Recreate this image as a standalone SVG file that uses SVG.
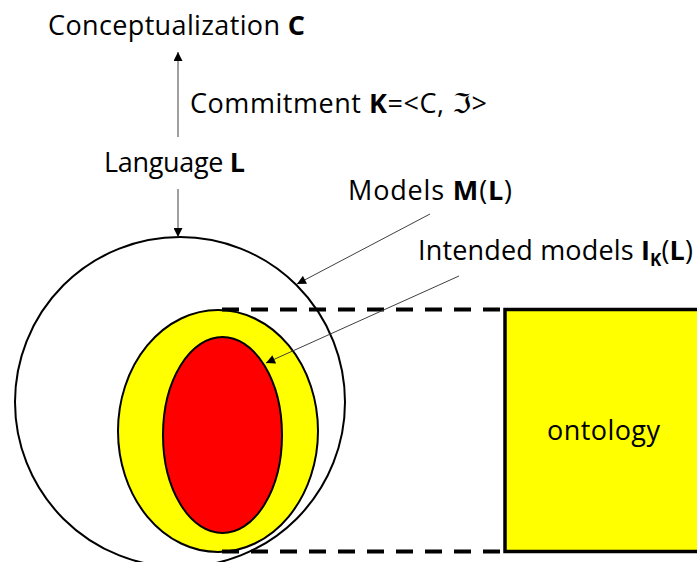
<svg xmlns="http://www.w3.org/2000/svg" width="697" height="562" viewBox="0 0 697 562">
<defs>
<marker id="ah" viewBox="0 0 10 10" refX="10" refY="5" markerWidth="10" markerHeight="9" markerUnits="userSpaceOnUse" orient="auto">
<path d="M0,0 L10,5 L0,10 Z" fill="#000"/>
</marker>
<style>
text{font-family:"Open Sans","DejaVu Sans",sans-serif;font-size:27px;fill:#000}
.b{font-weight:bold}
.conn{stroke:#404040;stroke-width:1;fill:none;marker-end:url(#ah)}
.shape{stroke:#000;stroke-width:2}
.dash{stroke:#000;stroke-width:4;stroke-dasharray:17 12;fill:none}
</style>
</defs>
<rect width="697" height="562" fill="#fff"/>
<g id="models">
<circle cx="180" cy="402" r="165" fill="#fff" class="shape"/>
</g>
<g id="ontology-scope">
<ellipse cx="218" cy="431" rx="100" ry="121" fill="#ffff00" class="shape"/>
</g>
<g id="intended">
<ellipse cx="222.5" cy="435" rx="59.5" ry="98" fill="#ff0000" class="shape"/>
</g>
<g id="dashes">
<line x1="222" y1="309.5" x2="505" y2="309.5" class="dash"/>
<line x1="222" y1="551.5" x2="505" y2="551.5" class="dash"/>
</g>
<g id="ontology">
<rect x="505" y="309.5" width="200" height="242" fill="#ffff00" stroke="#000" stroke-width="3.5"/>
<text x="547" y="440" font-size="28" textLength="113">ontology</text>
</g>
<g id="connectors">
<line x1="178" y1="137" x2="178" y2="52" class="conn"/>
<line x1="178" y1="189" x2="178" y2="237" class="conn"/>
<line x1="430" y1="214" x2="297" y2="284" class="conn"/>
<line x1="459" y1="276" x2="266" y2="363" class="conn"/>
</g>
<g id="labels">
<text id="conceptualization" x="48" y="35" textLength="257">Conceptualization <tspan class="b">C</tspan></text>
<text id="commitment" x="190" y="113" textLength="297">Commitment <tspan class="b">K</tspan>=&lt;C, ℑ&gt;</text>
<text id="language" x="104" y="172" textLength="141">Language <tspan class="b">L</tspan></text>
<text id="models-label" x="348" y="200" textLength="164">Models <tspan class="b">M</tspan>(<tspan class="b">L</tspan>)</text>
<text id="intended-label" x="418" y="260" textLength="275">Intended models <tspan class="b">I</tspan><tspan class="b" font-size="17" dy="6">K</tspan><tspan dy="-6">(</tspan><tspan class="b">L</tspan>)</text>
</g>
</svg>
